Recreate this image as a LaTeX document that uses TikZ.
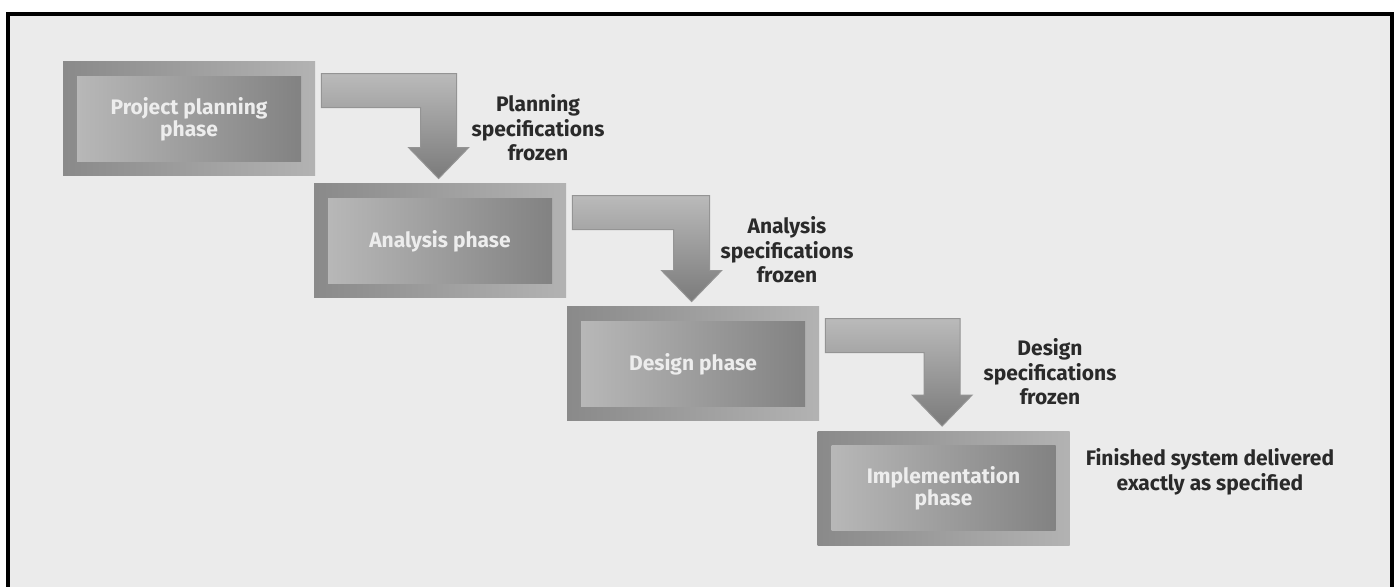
\documentclass[tikz,border=0pt]{standalone}
\usepackage{fontspec}
\setmainfont{Fira Sans}
\usetikzlibrary{calc}

\definecolor{pagebg}{HTML}{EBEBEB}
\definecolor{spectext}{HTML}{2A2A2A}

\tikzset{
  phase/.style={inner sep=0pt, minimum width=126pt, minimum height=57pt,
    left color=black!46, right color=black!30},
  phasein/.style={inner sep=0pt, minimum width=112pt, minimum height=42.5pt,
    left color=black!28, right color=black!49, text=white!93!black, align=center,
    font=\bfseries\fontsize{10.5}{11}\selectfont},
  spec/.style={align=center, text=spectext, font=\bfseries\fontsize{10.5}{12.25}\selectfont},
  flow/.style={top color=black!27, bottom color=black!52, draw=black!42, line width=0.5pt}
}

% bent arrow: #1 start of the bar (top left), #2 tip
\newcommand{\stepflow}[2]{%
  \coordinate (#1k) at (#1 -| #2);
  \shadedraw[flow] (#1) -- ($(#1k)+(18,0)$) -- ($(#2)+(18,-31)$) -- ($(#2)+(30,-31)$)
    -- (#2) -- ($(#2)+(-30,-31)$) -- ($(#2)+(-18,-31)$) -- ($(#1k)+(-18,34)$)
    -- ($(#1)+(0,34)$) -- cycle;}

\begin{document}
\begin{tikzpicture}[x=0.5pt, y=-0.5pt]
\useasboundingbox (0,0) rectangle (1394,587);
\fill[white] (0,0) rectangle (1394,587);
\fill[pagebg] (8,14) rectangle (1392,587);
\draw[line width=2pt] (8,587) -- (8,14) -- (1392,14) -- (1392,587);

\node[phase] (plan) at (189,119) {};
\node[phasein] (planin) at (plan) {Project planning\\phase};
\node[phase] (anal) at (440,241) {};
\node[phasein] (analin) at (anal) {Analysis phase};
\node[phase] (desn) at (693,364) {};
\node[phasein] (desnin) at (desn) {Design phase};
\node[phase] (impl) at (943.5,488.5) {};
\node[phasein] (implin) at (impl) {Implementation\\phase};

\coordinate (flow1) at ($(plan.north east)+(6,12)$);
\coordinate (drop1) at ($(anal.north west)+(125,-5)$);
\coordinate (flow2) at ($(anal.north east)+(6,12)$);
\coordinate (drop2) at ($(desn.north west)+(125,-5)$);
\coordinate (flow3) at ($(desn.north east)+(6,12)$);
\coordinate (drop3) at ($(impl.north west)+(125,-5)$);
\stepflow{flow1}{drop1}
\stepflow{flow2}{drop2}
\stepflow{flow3}{drop3}

\node[spec] (planspec) at (538,128) {Planning\\specifications\\frozen};
\node[spec] (analspec) at (787,250) {Analysis\\specifications\\frozen};
\node[spec] (desnspec) at (1050,372) {Design\\specifications\\frozen};
\node[spec] (implspec) at (1210,472) {Finished system delivered\\exactly as specified};

\end{tikzpicture}
\end{document}
